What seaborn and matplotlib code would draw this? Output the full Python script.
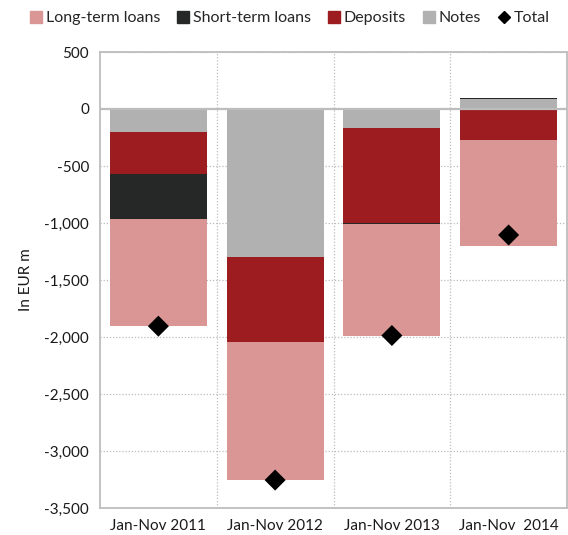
import numpy as np
import pandas as pd
import matplotlib
matplotlib.use("Agg")
import matplotlib.pyplot as plt
from matplotlib.lines import Line2D
from matplotlib.ticker import FuncFormatter, MultipleLocator
import seaborn as sns

# Data (EUR m)
periods = ["Jan-Nov 2011", "Jan-Nov 2012", "Jan-Nov 2013", "Jan-Nov  2014"]
notes = [-200, -1300, -165, 90]
deposits = [-370, -745, -832, -270]
short_term = [-395, 0, -10, 10]
long_term = [-940, -1210, -980, -930]
total = [-1905, -3255, -1987, -1105]

series_names = ["Notes", "Deposits", "Short-term loans", "Long-term loans"]
series_values = [notes, deposits, short_term, long_term]
series_colors = {
    "Long-term loans": "#DA9695",
    "Short-term loans": "#262727",
    "Deposits": "#9C1C20",
    "Notes": "#B1B1B1",
}

sns.set_theme(style="white")
plt.rcParams["font.family"] = ["Lato", "DejaVu Sans"]

fig = plt.figure(figsize=(5.68, 5.35), dpi=100)
ax = fig.add_axes([100 / 568, 1 - 508 / 535, 467 / 568, 456 / 535])

# Stacked bars: positives stack upward, negatives downward
pos_base = np.zeros(len(periods))
neg_base = np.zeros(len(periods))
for name, vals in zip(series_names, series_values):
    vals = np.array(vals, dtype=float)
    bottoms = np.where(vals >= 0, pos_base, neg_base)
    df = pd.DataFrame({"period": periods, "value": vals})
    sns.barplot(data=df, x="period", y="value", bottom=bottoms,
                color=series_colors[name], width=0.83, ax=ax,
                saturation=1, linewidth=0, zorder=2)
    pos_base += np.where(vals >= 0, vals, 0)
    neg_base += np.where(vals < 0, vals, 0)

# Total markers
sns.scatterplot(x=np.arange(len(periods)), y=total, marker="D", s=115,
                color="black", edgecolor="none", ax=ax, zorder=4)

ax.set_xlim(-0.5, len(periods) - 0.5)
ax.set_ylim(-3500, 500)
ax.yaxis.set_major_locator(MultipleLocator(500))
ax.yaxis.set_major_formatter(FuncFormatter(lambda v, p: f"{int(v):,}"))
ax.set_xticks(range(len(periods)))
ax.set_xticklabels(periods)
ax.set_xlabel("")
ax.set_ylabel("In EUR m", fontsize=11, color="#1a1a1a", labelpad=8)
ax.tick_params(axis="both", labelsize=11, colors="#1a1a1a", length=0, pad=8)

# Grid: dotted horizontals and category separators
for yv in np.arange(-3000, 501, 500):
    if yv != 0:
        ax.axhline(yv, color="#BDBDBD", lw=0.9, ls=(0, (1, 1.5)), zorder=1)
for xv in [0.5, 1.5, 2.5]:
    ax.axvline(xv, color="#BDBDBD", lw=0.9, ls=(0, (1, 1.5)), zorder=1)
ax.axhline(0, color="#BDBDBD", lw=1.6, zorder=3)

for sp in ax.spines.values():
    sp.set_color("#BDBDBD")
    sp.set_linewidth(1.3)

# Legend
handles = [
    Line2D([], [], marker="s", ls="none", ms=8, color=series_colors["Long-term loans"]),
    Line2D([], [], marker="s", ls="none", ms=8, color=series_colors["Short-term loans"]),
    Line2D([], [], marker="s", ls="none", ms=8, color=series_colors["Deposits"]),
    Line2D([], [], marker="s", ls="none", ms=8, color=series_colors["Notes"]),
    Line2D([], [], marker="D", ls="none", ms=6.5, color="black"),
]
labels = ["Long-term loans", "Short-term loans", "Deposits", "Notes", "Total"]
fig.legend(handles, labels, loc="center", bbox_to_anchor=(0.51, 1 - 18 / 535),
           ncol=5, frameon=False, fontsize=11.5, handlelength=0.8,
           handletextpad=0.25, columnspacing=1.0, borderaxespad=0)

fig.savefig("out.png", dpi=100)
